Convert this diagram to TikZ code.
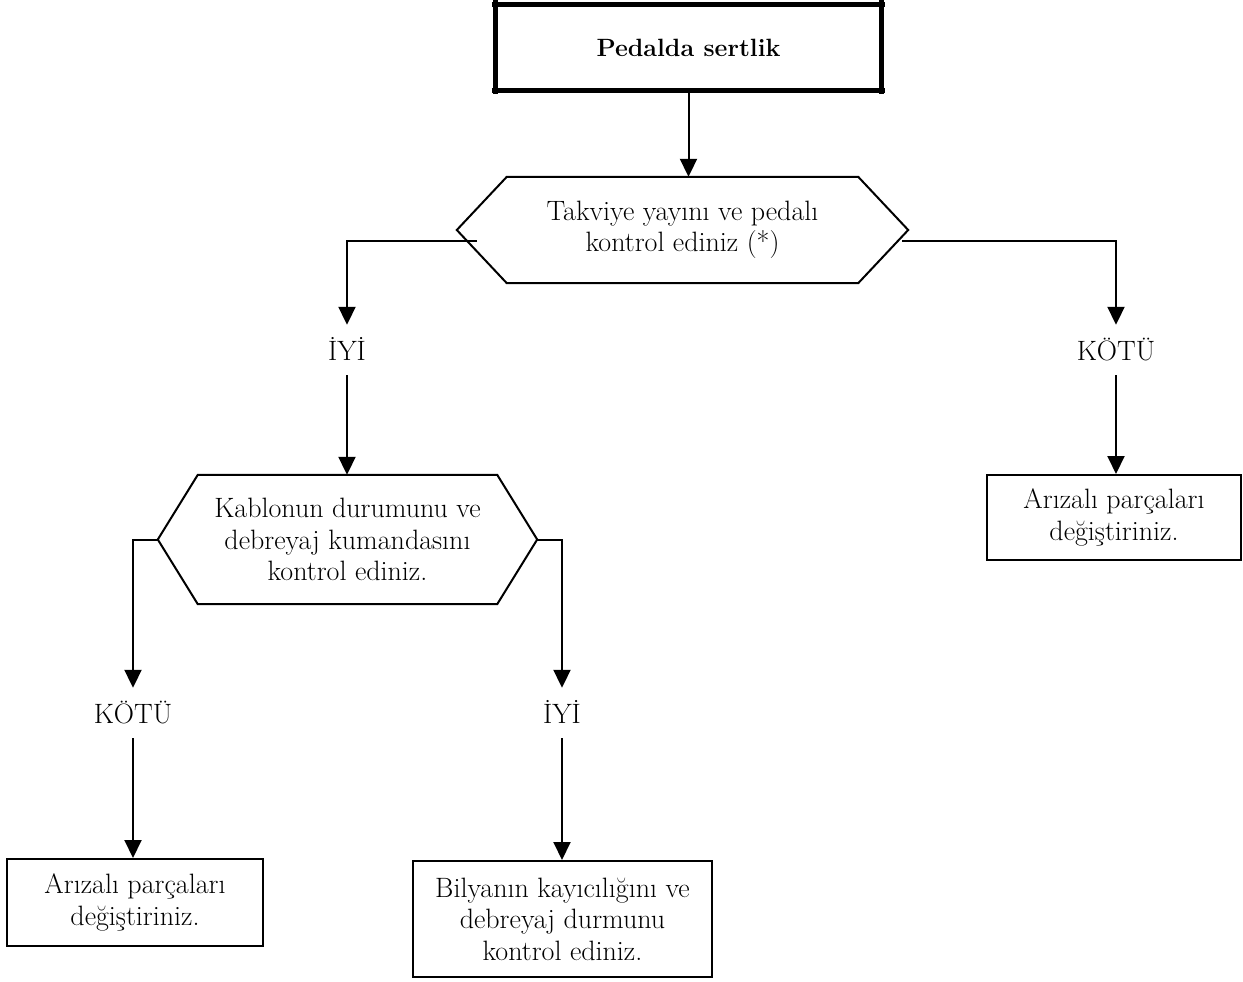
\documentclass[tikz,border=0pt]{standalone}
\usetikzlibrary{arrows.meta,calc}
\begin{document}
\begin{tikzpicture}[x=1pt,y=-1pt,
  txt/.style={font=\fontsize{28}{31.5}\selectfont, align=center, inner sep=0pt},
  boxA/.style={txt, draw, line width=2pt, minimum width=#1},
  hexnode/.style={txt, minimum width=#1},
  lbl/.style={font=\fontsize{28}{30}\selectfont, inner sep=0pt, text height=20pt, text depth=0pt, minimum height=50pt},
  arr/.style={line width=2pt, -{Triangle[width=17pt,length=18pt]}},
  thick box/.style={line width=5pt}
]
\useasboundingbox (0,0) rectangle (1243,982);

% top box
\node[inner sep=0pt, minimum width=385pt, minimum height=85pt, font=\fontsize{25}{31.5}\selectfont\bfseries] (top) at (688.5,47.5) {Pedalda sertlik};
\draw[thick box] ([xshift=-4pt]top.north west) -- ([xshift=4pt]top.north east);
\draw[thick box] ([xshift=-4pt]top.south west) -- ([xshift=4pt]top.south east);
\draw[thick box] ([yshift=6pt]top.north west) -- ([yshift=-4pt]top.south west);
\draw[thick box] ([yshift=6pt]top.north east) -- ([yshift=-4pt]top.south east);

% hexagon 1
\node[hexnode=451pt, minimum height=106pt] (h1) at (682.5,230) {Takviye yayını ve pedalı\\kontrol ediniz (*)};
\draw[line width=2pt, line join=miter] (h1.west) -- ([xshift=50pt]h1.north west) -- ([xshift=-50pt]h1.north east) -- (h1.east) -- ([xshift=-50pt]h1.south east) -- ([xshift=50pt]h1.south west) -- cycle;

% hexagon 2
\node[hexnode=379pt, minimum height=129pt] (h2) at (347.5,539.5) {Kablonun durumunu ve\\debreyaj kumandasını\\kontrol ediniz.};
\draw[line width=2pt, line join=miter] (h2.west) -- ([xshift=40pt]h2.north west) -- ([xshift=-40pt]h2.north east) -- (h2.east) -- ([xshift=-40pt]h2.south east) -- ([xshift=40pt]h2.south west) -- cycle;

% labels
\node[lbl] (i1) at (347,350) {İYİ};
\node[lbl] (k1) at (1116,350) {KÖTÜ};
\node[lbl] (k2) at (133,713) {KÖTÜ};
\node[lbl] (i2) at (562,713) {İYİ};

% boxes
\node[boxA=256pt, minimum height=87pt] (bL) at (135,902.5) {Arızalı parçaları\\değiştiriniz.};
\node[boxA=299pt, minimum height=116pt] (bM) at (562.5,919) {Bilyanın kayıcılığını ve\\debreyaj durmunu\\kontrol ediniz.};
\node[boxA=254pt, minimum height=85pt] (bR) at (1114,517.5) {Arızalı parçaları\\değiştiriniz.};

% connector anchors
\coordinate (c1) at (477,241);
\coordinate (c2) at (902,241);

% connectors
\draw[arr] (top.south) -- (top.south |- h1.north);
\draw[arr] (c1) -| (i1.north);
\draw[arr] (c2) -| (k1.north);
\draw[arr] (i1.south) -- (i1.south |- h2.north);
\draw[arr] (k1.south) -- (k1.south |- bR.north);
\draw[arr] (h2.west) -| (k2.north);
\draw[arr] (h2.east) -| (i2.north);
\draw[arr] (k2.south) -- (k2.south |- bL.north);
\draw[arr] (i2.south) -- (i2.south |- bM.north);
\end{tikzpicture}
\end{document}
